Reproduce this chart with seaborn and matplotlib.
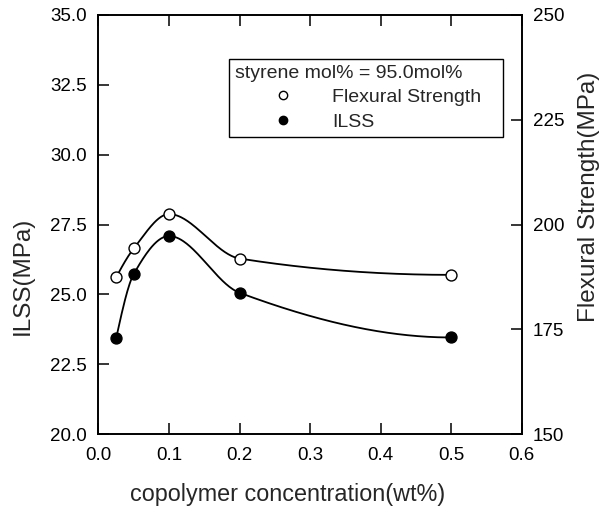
import numpy as np
import pandas as pd
import matplotlib
matplotlib.use("Agg")
import matplotlib.pyplot as plt
from matplotlib.lines import Line2D
import seaborn as sns

# ---- data ----
conc = [0.025, 0.05, 0.1, 0.2, 0.5]            # copolymer concentration (wt%)
ilss = [23.43, 25.73, 27.09, 25.06, 23.46]     # ILSS (MPa), left axis
flex = [187.4, 194.3, 202.5, 191.9, 188.0]     # Flexural strength (MPa), right axis

x_ticks = [0.0, 0.1, 0.2, 0.3, 0.4, 0.5, 0.6]
left_ticks = [20.0, 22.5, 25.0, 27.5, 30.0, 32.5, 35.0]
right_ticks = [150, 175, 200, 225, 250]


def pchip(x, y, xs):
    """Monotone cubic (PCHIP) curve through the data points, for drawing the line."""
    x = np.asarray(x, float); y = np.asarray(y, float)
    h = np.diff(x); d = np.diff(y) / h
    n = len(x); m = np.zeros(n)
    for k in range(1, n - 1):
        if d[k - 1] * d[k] <= 0:
            m[k] = 0.0
        else:
            w1 = 2 * h[k] + h[k - 1]; w2 = h[k] + 2 * h[k - 1]
            m[k] = (w1 + w2) / (w1 / d[k - 1] + w2 / d[k])
    def end(h0, h1, d0, d1):
        mm = ((2 * h0 + h1) * d0 - h0 * d1) / (h0 + h1)
        if np.sign(mm) != np.sign(d0):
            mm = 0.0
        elif np.sign(d0) != np.sign(d1) and abs(mm) > abs(3 * d0):
            mm = 3 * d0
        return mm
    m[0] = end(h[0], h[1], d[0], d[1])
    m[-1] = end(h[-1], h[-2], d[-1], d[-2])
    out = np.empty_like(xs)
    for i, xv in enumerate(xs):
        k = min(max(np.searchsorted(x, xv) - 1, 0), n - 2)
        t = (xv - x[k]) / h[k]
        h00 = 2 * t**3 - 3 * t**2 + 1; h10 = t**3 - 2 * t**2 + t
        h01 = -2 * t**3 + 3 * t**2; h11 = t**3 - t**2
        out[i] = h00 * y[k] + h10 * h[k] * m[k] + h01 * y[k + 1] + h11 * h[k] * m[k + 1]
    return out


sns.set_style("ticks")
plt.rcParams['font.family'] = ['Liberation Sans', 'DejaVu Sans']

fig = plt.figure(figsize=(6.06, 5.12), dpi=100)
ax = fig.add_axes([0.1625, 0.152, 0.6985, 0.8188])
ax2 = ax.twinx()

xs = np.linspace(min(conc), max(conc), 300)
df_i = pd.DataFrame({"x": xs, "y": pchip(conc, ilss, xs)})
df_f = pd.DataFrame({"x": xs, "y": pchip(conc, flex, xs)})
pts_i = pd.DataFrame({"x": conc, "y": ilss})
pts_f = pd.DataFrame({"x": conc, "y": flex})

sns.lineplot(data=df_i, x="x", y="y", ax=ax, color="black", lw=1.3, zorder=2)
sns.lineplot(data=df_f, x="x", y="y", ax=ax2, color="black", lw=1.3, zorder=2)
sns.scatterplot(data=pts_i, x="x", y="y", ax=ax, s=62, color="black",
                edgecolor="black", linewidth=1.0, zorder=3)
sns.scatterplot(data=pts_f, x="x", y="y", ax=ax2, s=62, color="white",
                edgecolor="black", linewidth=1.0, zorder=3)

ax.set_xlim(0.0, 0.6)
ax.set_ylim(20.0, 35.0)
ax2.set_ylim(150, 250)
ax.set_xticks(x_ticks)
ax.set_xticklabels([f"{v:.1f}" for v in x_ticks])
ax.set_yticks(left_ticks)
ax.set_yticklabels([f"{v:.1f}" for v in left_ticks])
ax2.set_yticks(right_ticks)
ax2.set_yticklabels([str(v) for v in right_ticks])

fs = 13.5
ax.tick_params(axis="x", direction="in", length=8, width=1.1, top=True,
               labelsize=fs, pad=9, colors="black")
ax.tick_params(axis="y", direction="in", length=8, width=1.1, right=False,
               labelsize=fs, pad=8.5, colors="black")
ax2.tick_params(axis="y", direction="in", length=8, width=1.1,
                labelsize=fs, pad=8, colors="black")

for a in (ax, ax2):
    for s in a.spines.values():
        s.set_visible(True)
        s.set_linewidth(1.2)
        s.set_color("black")

ax.set_xlabel("copolymer concentration(wt%)", fontsize=16.8, labelpad=14)
ax.set_ylabel("ILSS(MPa)", fontsize=17.5, labelpad=12)
ax2.set_ylabel("Flexural Strength(MPa)", fontsize=17.5, labelpad=10)
ax.xaxis.label.set_x(0.4475)
ax.yaxis.label.set_y(0.377)
ax2.yaxis.label.set_y(0.566)

handles = [
    Line2D([], [], marker="o", ls="none", mfc="white", mec="black", ms=6, mew=1.0),
    Line2D([], [], marker="o", ls="none", mfc="black", mec="black", ms=6, mew=1.0),
]
leg = ax2.legend(handles, ["Flexural Strength", "ILSS"],
                 title="styrene mol% = 95.0mol%",
                 loc="upper left",
                 bbox_to_anchor=(229 / 606, 1 - 137 / 512, (503 - 229) / 606, 78 / 512),
                 bbox_transform=fig.transFigure, mode="expand",
                 fontsize=14, title_fontsize=14, frameon=True,
                 fancybox=False, edgecolor="black", framealpha=1,
                 borderpad=0.3, handletextpad=0.0, labelspacing=0.35,
                 handlelength=5.0, borderaxespad=0)
leg._legend_box.align = "left"
leg.get_frame().set_linewidth(1.0)

fig.savefig("out.png", dpi=100)
